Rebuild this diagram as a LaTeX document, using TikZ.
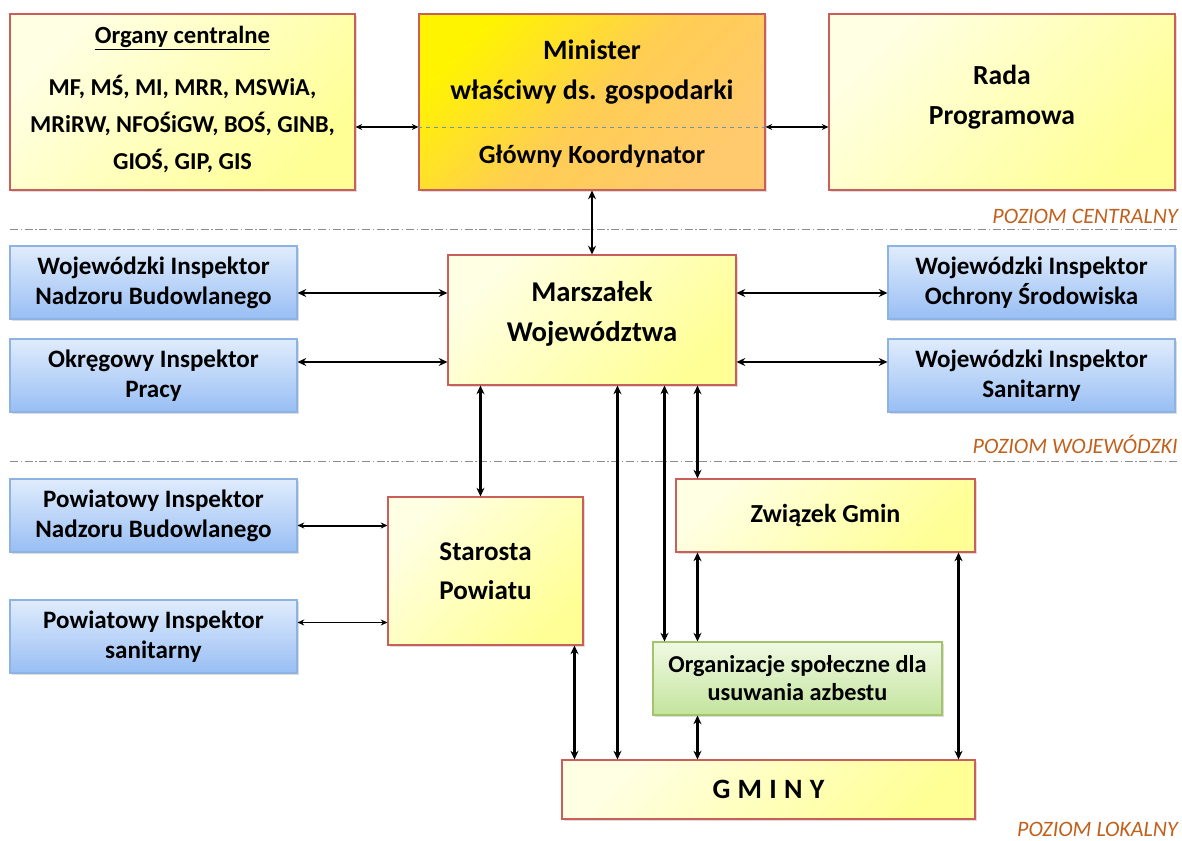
\documentclass[tikz,border=0pt]{standalone}
\usepackage{fontspec}
\setmainfont{Carlito}
\usetikzlibrary{calc,shadows,arrows.meta}

\definecolor{edgered}{HTML}{C95E5A}
\definecolor{ylA}{HTML}{FFFFE4}
\definecolor{ylB}{HTML}{FFFF96}
\definecolor{orA}{HTML}{FFF400}
\definecolor{orM}{HTML}{FFCE52}
\definecolor{orB}{HTML}{FFC96E}
\definecolor{blA}{HTML}{E0ECFC}
\definecolor{blB}{HTML}{98BEF4}
\definecolor{bledge}{HTML}{8DB3E2}
\definecolor{grA}{HTML}{F0F9E2}
\definecolor{grB}{HTML}{C3E49E}
\definecolor{gredge}{HTML}{A3C46B}
\definecolor{lvlc}{HTML}{C0601C}
\definecolor{sepc}{HTML}{8C8C8C}
\definecolor{midline}{HTML}{7F8EA8}

\begin{document}
\begin{tikzpicture}[x=0.75pt,y=-0.75pt,
  sz/.style 2 args={minimum width=#1*0.75pt, minimum height=#2*0.75pt},
  box/.style={draw, line width=0.8pt, inner sep=0pt, align=center,
    font=\bfseries\fontsize{18.8}{22.5}\selectfont,
    drop shadow={shadow xshift=1.5pt, shadow yshift=-1.5pt, opacity=0.22, fill=black!60}},
  ybox/.style={box, draw=edgered, top color=ylA, bottom color=ylB, shading angle=45},
  obox/.style={box, draw=edgered, top color=orA, bottom color=orB, middle color=orM, shading angle=45},
  bbox/.style={box, draw=bledge, top color=blA, bottom color=blB, sz={287}{73}},
  gbox/.style={box, draw=gredge, top color=grA, bottom color=grB},
  txt/.style={inner sep=0pt, align=center},
  lvl/.style={inner sep=0pt, anchor=base east, text=lvlc, font=\itshape\fontsize{16.5}{19}\selectfont},
  sepline/.style={draw=sepc, line width=0.7pt, dash pattern=on 6pt off 2pt on 1pt off 2pt},
  thinarr/.style={{Stealth[length=5pt,width=4.5pt]}-{Stealth[length=5pt,width=4.5pt]}, line width=1.1pt},
  arr/.style={{Stealth[length=6.5pt,width=6pt]}-{Stealth[length=6.5pt,width=6pt]}, line width=2.1pt},
]
\useasboundingbox (0,0) rectangle (1182,841);

% level separators
\draw[sepline] (10,229) -- (1178,229);
\draw[sepline] (10,461) -- (1178,461);
\node[lvl] (lvlC) at (1178,224) {POZIOM CENTRALNY};
\node[lvl] (lvlW) at (1178,454) {POZIOM WOJEWÓDZKI};
\node[lvl] (lvlL) at (1178,836) {POZIOM LOKALNY};

% central level
\node[ybox, sz={345}{176}] (org) at (182.5,102) {};
\node[txt, font=\bfseries\fontsize{18.5}{22}\selectfont] (orgT) at (182.5,38) {\underline{Organy centralne}};
\node[txt, font=\bfseries\fontsize{18.2}{27.8}\selectfont] (orgL) at (182.5,124)
  {MF, MŚ, MI, MRR, MSWiA,\\MRiRW, NFOŚiGW, BOŚ, GINB,\\GIOŚ, GIP, GIS};

\node[obox, sz={346}{176}] (min) at (592,102) {};
\draw[midline, dashed, line width=0.6pt] ($(min.west)+(0,25)$) -- ($(min.east)+(0,25)$);
\node[txt, font=\bfseries\fontsize{21}{26}\selectfont] (minA) at (592,50) {Minister};
\node[txt, font=\bfseries\fontsize{21}{26}\selectfont] (minB) at (592,93) {\strut właściwy ds. gospodarki};
\node[txt, font=\bfseries\fontsize{19.7}{24}\selectfont] (minC) at (592,157) {\strut Główny Koordynator};

\node[ybox, sz={346}{176}] (rada) at (1002,102) {};
\node[txt, font=\bfseries\fontsize{20.7}{30}\selectfont] (radaT) at (1002,97) {Rada\\Programowa};

% voivodeship level
\node[bbox] (winb) at (153.5,282.5) {Wojewódzki Inspektor\\Nadzoru Budowlanego};
\node[bbox] (oip) at (153.5,375.5) {Okręgowy Inspektor\\Pracy};
\node[bbox] (wios) at (1031.5,282.5) {Wojewódzki Inspektor\\Ochrony Środowiska};
\node[bbox] (wis) at (1031.5,375.5) {Wojewódzki Inspektor\\Sanitarny};
\node[ybox, sz={288}{130}] (marsz) at (592,320) {};
\node[txt, font=\bfseries\fontsize{21.5}{30}\selectfont] (marszT) at (592,314) {Marszałek\\Województwa};

% local level
\node[bbox] (pinb) at (153.5,515.5) {Powiatowy Inspektor\\Nadzoru Budowlanego};
\node[bbox] (pis) at (153.5,636.5) {Powiatowy Inspektor\\sanitarny};
\node[ybox, sz={195}{148}, font=\bfseries\fontsize{20.3}{29.5}\selectfont] (star) at (485.5,571) {Starosta\\Powiatu};
\node[ybox, sz={299}{73}, font=\bfseries\fontsize{19.5}{24}\selectfont] (zg) at (825.5,515.5) {Związek Gmin};
\node[gbox, sz={289}{73}, font=\bfseries\fontsize{18.2}{21}\selectfont] (osp) at (797.5,678.5) {Organizacje społeczne dla\\usuwania azbestu};
\node[ybox, sz={413}{59}, font=\bfseries\fontsize{21}{24}\selectfont] (gm) at (768.5,789.5)
  {G\hspace{0.26em}M\hspace{0.26em}I\hspace{0.26em}N\hspace{0.26em}Y};

% connections
\draw[thinarr] ($(org.east)+(0,25)$) -- ($(min.west)+(0,25)$);
\draw[thinarr] ($(min.east)+(0,25)$) -- ($(rada.west)+(0,25)$);
\draw[arr] (min.south) -- (marsz.north);

\draw[arr] ($(winb.east)+(0,10.5)$) -- ($(marsz.west)+(0,-27)$);
\draw[arr] ($(oip.east)+(0,-13.5)$) -- ($(marsz.west)+(0,42)$);
\draw[arr] ($(marsz.east)+(0,-27)$) -- ($(wios.west)+(0,10.5)$);
\draw[arr] ($(marsz.east)+(0,42)$) -- ($(wis.west)+(0,-13.5)$);

\draw[arr] ($(marsz.south west)+(33,0)$) -- ($(star.north west)+(93,0)$);
\draw[arr] ($(marsz.south west)+(170,0)$) -- ($(gm.north west)+(56,0)$);
\draw[arr] ($(marsz.south west)+(217,0)$) -- ($(osp.north west)+(12,0)$);
\draw[arr] ($(marsz.south west)+(250,0)$) -- ($(zg.north west)+(22,0)$);

\draw[arr] ($(zg.south west)+(22,0)$) -- ($(osp.north west)+(45,0)$);
\draw[arr] ($(zg.south east)+(-17,0)$) -- ($(gm.north east)+(-17,0)$);
\draw[arr] ($(osp.south west)+(45,0)$) -- ($(gm.north west)+(136,0)$);
\draw[arr] ($(star.south west)+(187,0)$) -- ($(gm.north west)+(13,0)$);

\draw[thinarr, line width=1.5pt] ($(pinb.east)+(0,10)$) -- ($(star.west)+(0,-45.5)$);
\draw[thinarr] ($(pis.east)+(0,-14)$) -- ($(star.west)+(0,51.5)$);
\end{tikzpicture}
\end{document}
